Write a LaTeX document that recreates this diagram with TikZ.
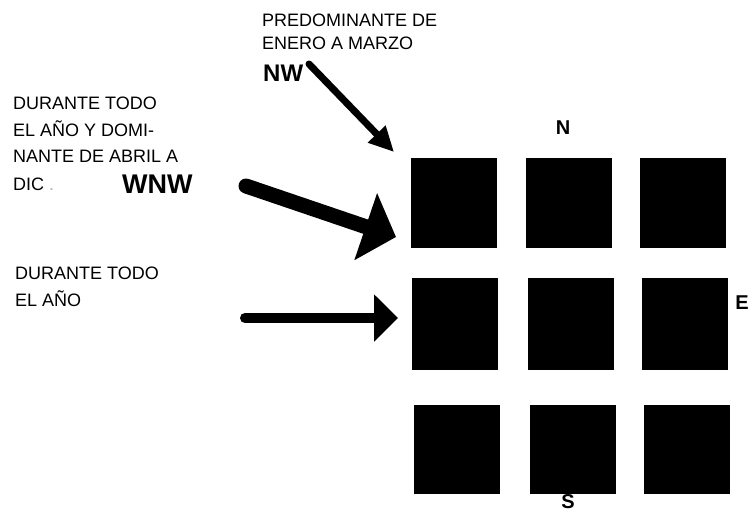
\documentclass[tikz,border=0pt]{standalone}
\usepackage{fontspec}
\setmainfont{Liberation Sans}
\usetikzlibrary{arrows.meta}
\begin{document}
\begin{tikzpicture}[x=1pt,y=-1pt,
  block/.style={fill=black, draw=none, inner sep=0pt, minimum width=86pt, minimum height=#1},
  block/.default=90pt,
  txt/.style={anchor=base west, inner sep=0pt, font=\fontsize{18}{22}\selectfont},
  bigtxt/.style={anchor=base west, inner sep=0pt, font=\bfseries\fontsize{#1}{#1}\selectfont},
  cmp/.style={inner sep=0pt, font=\bfseries\fontsize{20}{20}\selectfont},
  windarrow/.style={line cap=round, draw=black}
]
\path[use as bounding box, fill=white] (0,0) rectangle (750,520);

% grid of blocks
\node[block] (b11) at (453.5,203) {};
\node[block] (b12) at (569,203) {};
\node[block] (b13) at (683,203) {};
\node[block=92pt] (b21) at (455,324) {};
\node[block=92pt] (b22) at (571,324) {};
\node[block=92pt] (b23) at (685,324) {};
\node[block=89pt] (b31) at (456.5,449.5) {};
\node[block=89pt] (b32) at (572.5,449.5) {};
\node[block=89pt] (b33) at (687,449.5) {};

% compass labels
\node[cmp] (lN) at (563,128) {N};
\node[cmp] (lS) at (568,502) {S};
\node[cmp, anchor=east] (lE) at (749,303) {E};

% NW text
\node[txt] (t1a) at (262,26.5) {PREDOMINANTE DE};
\node[txt] (t1b) at (262,49.5) {ENERO A MARZO};
\node[bigtxt=24] (t1c) at (263,81.5) {NW};

% WNW text
\node[txt] (t2a) at (13,109.5) {DURANTE TODO};
\node[txt] (t2b) at (13,136) {EL AÑO Y DOMI-};
\node[txt] (t2c) at (13,162) {NANTE DE ABRIL A};
\node[txt] (t2d) at (13,190) {DIC {\color{black!30}.}};
\node[bigtxt=27] (t2e) at (122,193) {WNW};

% W text
\node[txt] (t3a) at (15,279) {DURANTE TODO};
\node[txt] (t3b) at (15,306) {EL AÑO};

% arrows
\coordinate (nwTail) at (309,64);
\coordinate (nwTip) at (394,152);
\coordinate (wnwTail) at (246,186);
\coordinate (wnwTip) at (396,237);
\coordinate (wTail) at (245,318);
\coordinate (wTip) at (398,318);

\draw[windarrow, line width=7pt, -{Triangle[length=25pt,width=23pt]}] (nwTail) -- (nwTip);
\draw[windarrow, line width=15pt, -{Triangle[length=32pt,width=69pt]}] (wnwTail) -- (wnwTip);
\draw[windarrow, line width=10pt, -{Triangle[length=24pt,width=46pt]}] (wTail) -- (wTip);
\end{tikzpicture}
\end{document}
